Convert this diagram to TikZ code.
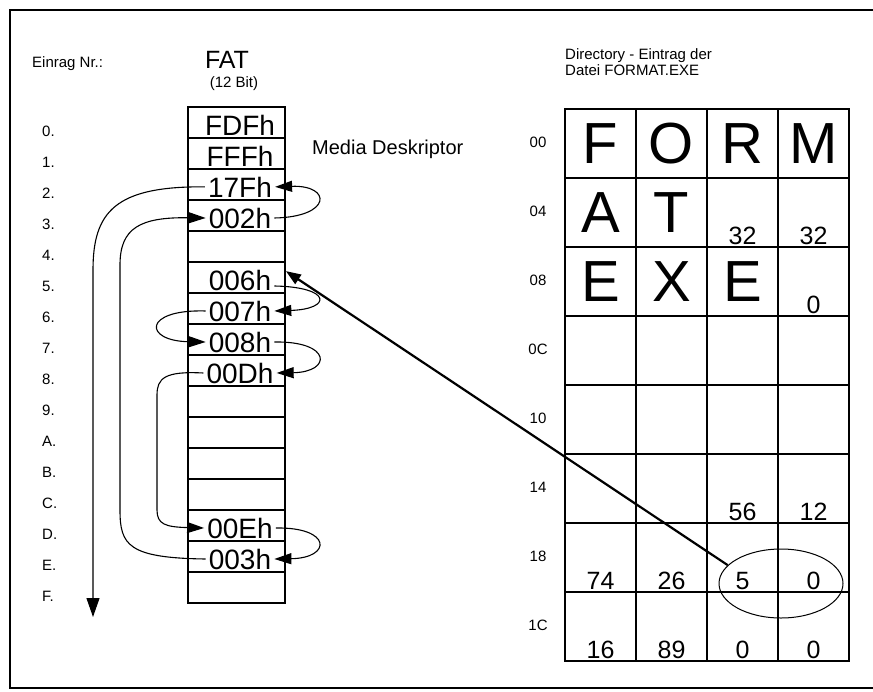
\documentclass[tikz,border=0pt]{standalone}
\usepackage{fontspec}
\setmainfont{Liberation Sans}
\usetikzlibrary{arrows.meta, shapes.geometric}

\begin{document}
\begin{tikzpicture}[x=1pt, y=-1pt,
  fatcell/.style={rectangle, draw=black, line width=1.8pt,
    minimum width=97pt, minimum height=31pt, inner sep=0pt},
  %
  fattext/.style={inner sep=3pt, anchor=base,
    font=\fontsize{28}{28}\selectfont},
  %
  dircell/.style={rectangle, draw=black, line width=2pt,
    minimum width=71pt, minimum height=69pt, inner sep=0pt},
  %
  bigletter/.style={inner sep=0pt, font=\fontsize{58}{58}\selectfont},
  %
  dirnum/.style={inner sep=0pt, anchor=base,
    font=\fontsize{25}{25}\selectfont},
  %
  smalltext/.style={inner sep=0pt, font=\fontsize{15}{16}\selectfont},
  %
  link/.style={line width=1.1pt, -{Triangle[length=17pt, width=11pt]}}
  ]

  \useasboundingbox (0,0) rectangle (873,691);
  \draw [line width=1.5pt] (873,10) -- (10,10) -- (10,688) -- (873,688);

  % headings
  \node [smalltext, anchor=base west] (nrhead) at (32,67) {Einrag Nr.:};
  \node [inner sep=0pt, anchor=base, font=\fontsize{25}{25}\selectfont]
    (fathead) at (227,68) {FAT};
  \node [smalltext, anchor=base] (bithead) at (234,87) {(12 Bit)};
  \node [inner sep=0pt, anchor=base west, font=\fontsize{20}{20}\selectfont]
    (media) at (312,154) {Media Deskriptor};
  \node [smalltext, anchor=north west, align=left] (dirhead) at (565,48)
    {Directory - Eintrag der\\Datei FORMAT.EXE};

  % FAT
  \begin{scope}
    \foreach \n/\v [count=\i from 0] in {0/FDFh, 1/FFFh, 2/17Fh, 3/002h,
      4/{}, 5/006h, 6/007h, 7/008h, 8/00Dh, 9/{}, A/{}, B/{}, C/{},
      D/00Eh, E/003h, F/{}} {
      \node [fatcell] (f\n) at (236.5, 122.5+31*\i) {};
      \node [fattext] (t\n) at ([xshift=3.5pt, yshift=-12.5pt]f\n.center) {\v};
      \node [smalltext, anchor=base west] (l\n) at (42, 136+31*\i) {\n.};
    }
  \end{scope}

  % Directory entry
  \begin{scope}
    \foreach \r in {0,...,7}
      \foreach \c in {0,...,3}
        \node [dircell] (d\r\c) at (600.5+71*\c, 143.5+69*\r) {};
    \foreach \lab [count=\r from 0] in {00,04,08,0C,10,14,18,1C}
      \node [smalltext, anchor=base] (r\r) at (538, 147+69*\r) {\lab};
    \foreach \r/\c/\z in {0/0/F, 0/1/O, 0/2/R, 0/3/M, 1/0/A, 1/1/T,
      2/0/E, 2/1/X, 2/2/E}
      \node [bigletter] (b\r\c) at (d\r\c) {\z};
    \foreach \r/\c/\z in {1/2/32, 1/3/32, 2/3/0, 5/2/56, 5/3/12, 6/0/74,
      6/1/26, 6/2/5, 6/3/0, 7/0/16, 7/1/89, 7/2/0, 7/3/0}
      \node [dirnum] (n\r\c) at ([yshift=4pt]d\r\c.south) {\z};
    \node [draw, ellipse, line width=1pt, minimum width=124pt,
      minimum height=69pt, inner sep=0pt] (start) at (781,583.5) {};
  \end{scope}

  % cluster chain
  \begin{scope}
    \coordinate (fatend) at (93,617);
    \draw [line width=2.2pt, -{Triangle[length=15pt, width=11pt]}]
      (start.161) -- ([yshift=-10pt]f5.north east);
    \draw [link] ([yshift=-6pt]t5.east) .. controls (332,287) and (332,309) .. (t6.east);
    \draw [link] (t6.west) .. controls (143,309) and (143,341) .. (t7.west);
    \draw [link] (t7.east) .. controls (332,341) and (332,372) .. (t8.east);
    \draw [link] (t8.west) .. controls (165,371) and (157,378) .. (157,395)
      -- (157,510) .. controls (157,524) and (165,527) .. (tD.west);
    \draw [link] (tD.east) .. controls (332,527) and (332,558) .. (tE.east);
    \draw [link] (tE.west) .. controls (128,558) and (120,545) .. (120,510)
      -- (120,265) .. controls (120,228) and (140,217) .. (t3.west);
    \draw [link] (t3.east) .. controls (332,217) and (332,185) .. (t2.east);
    \draw [link, -{Triangle[length=19pt, width=13pt]}] (t2.west)
      .. controls (115,186) and (93,212) .. (93,270) -- (fatend);
  \end{scope}

\end{tikzpicture}
\end{document}
